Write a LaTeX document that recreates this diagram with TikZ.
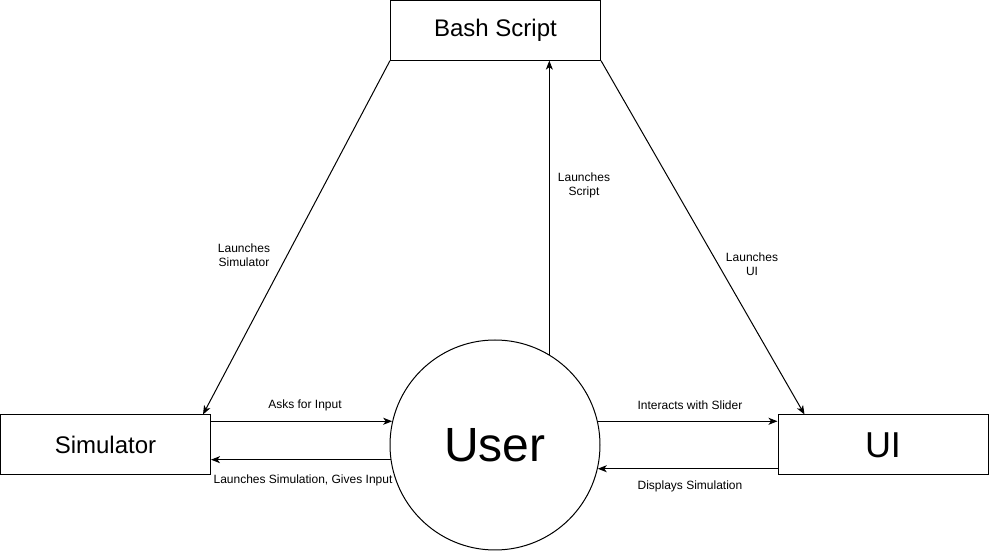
\documentclass[tikz,border=0pt]{standalone}
\usepackage{fontspec}
\setmainfont{Liberation Sans}
\usetikzlibrary{arrows.meta}
\begin{document}
\begin{tikzpicture}[x=1pt,y=1pt,
  box/.style={draw,line width=1pt,minimum width=210pt,minimum height=60pt,inner sep=0pt,fill=white},
  conn/.style={line width=1pt,-{Stealth[length=9pt,width=7pt,inset=2.5pt]}},
  lbl/.style={font=\fontsize{12}{14}\selectfont,align=center,inner sep=0pt}]
\useasboundingbox (0,0) rectangle (989,551);
\node[box,font=\fontsize{24}{28}\selectfont,minimum height=59.5pt] (bash) at (495.5,520.6) {Bash Script};
\node[box,font=\fontsize{24}{28}\selectfont] (sim) at (105.5,106) {Simulator};
\node[box,font=\fontsize{36}{40}\selectfont] (ui) at (883,106) {UI};
\node[draw,circle,line width=1pt,minimum size=210pt,inner sep=0pt,font=\fontsize{48}{52}\selectfont] (user) at (495,106) {User};

\draw[conn] (bash.south west) -- ([xshift=-8pt]sim.north east);
\draw[conn] (bash.south east) -- ([xshift=27pt]ui.north west);
\draw[conn] (user.59.7) -- (user.59.7 |- bash.south);
\draw[conn] (sim.east |- user.167.9) -- (user.167.9);
\draw[conn] (user.188.2) -- (sim.east |- user.188.2);
\draw[conn] (user.13.2) -- (ui.west |- user.13.2);
\draw[conn] (ui.west |- user.-13.8) -- (user.-13.8);

\node[lbl] (l1) at (244,296) {Launches\\Simulator};
\node[lbl] (l2) at (584,366) {Launches\\Script};
\node[lbl] (l3) at (752,287) {Launches\\UI};
\node[lbl] (l4) at (305,146) {Asks for Input};
\node[lbl] (l5) at (303,71) {Launches Simulation, Gives Input};
\node[lbl] (l6) at (690,146) {Interacts with Slider};
\node[lbl] (l7) at (690,65) {Displays Simulation};
\end{tikzpicture}
\end{document}
